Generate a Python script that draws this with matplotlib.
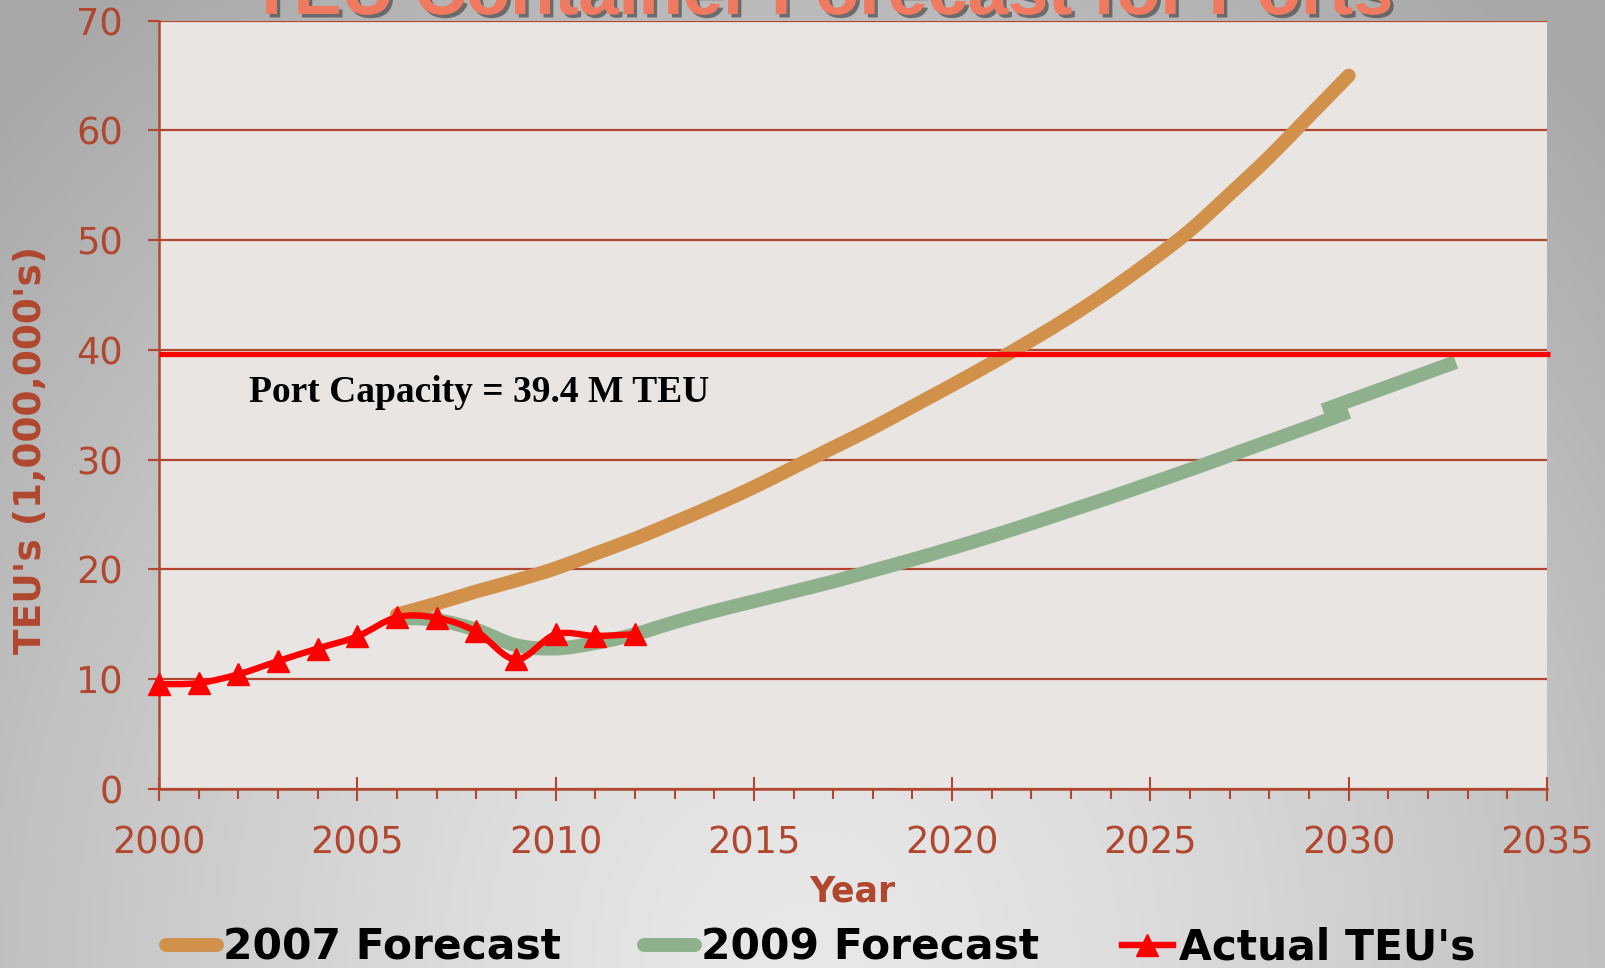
import numpy as np
import matplotlib
matplotlib.use("Agg")
import matplotlib.pyplot as plt
from matplotlib.path import Path
from matplotlib.patches import PathPatch
from matplotlib.lines import Line2D
from matplotlib.font_manager import FontProperties
import matplotlib.patheffects as pe

# ---------------- data ----------------
years_actual = [2000, 2001, 2002, 2003, 2004, 2005, 2006, 2007, 2008, 2009, 2010, 2011, 2012]
teu_actual = [9.55, 9.65, 10.45, 11.65, 12.8, 13.9, 15.65, 15.6, 14.35, 11.8, 14.1, 13.95, 14.1]

years_2007 = [2006, 2007, 2008, 2009, 2010, 2011, 2012, 2013, 2014, 2015, 2016, 2017, 2018,
              2019, 2020, 2021, 2022, 2023, 2024, 2025, 2026, 2027, 2028, 2029, 2030]
forecast_2007 = [15.9, 16.9, 18.0, 19.0, 20.1, 21.45, 22.8, 24.3, 25.85, 27.5, 29.3, 31.1, 32.9,
                 34.85, 36.8, 38.8, 40.9, 43.1, 45.5, 48.1, 50.9, 54.2, 57.6, 61.3, 65.0]

years_2009 = [2006, 2007, 2008, 2009, 2010, 2011, 2012, 2013, 2014, 2015, 2016, 2017, 2018,
              2019, 2020, 2021, 2022, 2023, 2024, 2025, 2026, 2027, 2028, 2029, 2030]
forecast_2009 = [15.6, 15.4, 14.5, 13.1, 12.8, 13.3, 14.1, 15.2, 16.2, 17.1, 18.0, 18.9, 19.9,
                 20.9, 21.95, 23.05, 24.2, 25.4, 26.6, 27.85, 29.1, 30.4, 31.7, 33.0, 34.35]
years_2009_ext = [2029.35, 2032.7]
forecast_2009_ext = [34.5, 38.9]

capacity_level = 39.6
capacity_label = "Port Capacity = 39.4 M TEU"

x_ticks = [2000, 2005, 2010, 2015, 2020, 2025, 2030, 2035]
y_ticks = [0, 10, 20, 30, 40, 50, 60, 70]
legend_labels = ["2007 Forecast", "2009 Forecast", "Actual TEU's"]
title_text = "TEU Container Forecast for Ports"

# ---------------- styles ----------------
C_AXIS = "#b0472e"
C_ORANGE = "#d1914b"
C_GREEN = "#8fb08c"
C_RED = "#ff0000"
C_PLOT_BG = "#e8e5e2"

W, H = 1606, 968
fig = plt.figure(figsize=(W / 100, H / 100), dpi=100)

# background gradient (radial, light at bottom centre)
bg = fig.add_axes([0, 0, 1, 1], zorder=-10)
gx = np.linspace(0, 1, 400)
gy = np.linspace(0, 1, 240)
GX, GY = np.meshgrid(gx, gy)
d = np.sqrt(((GX - 0.5) / 0.55) ** 2 + (GY / 1.0) ** 2)
v = np.clip(0.91 - 0.18 * d ** 1.4, 0.66, 1)
bg.imshow(np.dstack([v, v, v]), origin="lower", extent=[0, 1, 0, 1], aspect="auto")
bg.set_axis_off()

ax = fig.add_axes([159 / W, 1 - 789 / H, (1547 - 159) / W, (789 - 20.7) / H])
ax.set_facecolor(C_PLOT_BG)
ax.set_xlim(2000, 2035)
ax.set_ylim(0, 70)


def smooth_path(xs, ys):
    P = np.column_stack([xs, ys]).astype(float)
    n = len(P)
    verts = [P[0]]
    codes = [Path.MOVETO]
    for i in range(n - 1):
        p0 = P[i - 1] if i > 0 else P[i]
        p1 = P[i]
        p2 = P[i + 1]
        p3 = P[i + 2] if i + 2 < n else P[i + 1]
        verts += [p1 + (p2 - p0) / 6.0, p2 - (p3 - p1) / 6.0, p2]
        codes += [Path.CURVE4] * 3
    return Path(verts, codes)


def add_curve(xs, ys, color, lw, z, cap="round"):
    patch = PathPatch(smooth_path(xs, ys), facecolor="none", edgecolor=color, lw=lw,
                      capstyle=cap, joinstyle="round", zorder=z)
    ax.add_patch(patch)


add_curve(years_2009, forecast_2009, C_GREEN, 10, 3, cap="butt")
add_curve(years_2009_ext, forecast_2009_ext, C_GREEN, 10, 3, cap="butt")
add_curve(years_2007, forecast_2007, C_ORANGE, 10, 3.5)
add_curve(years_actual, teu_actual, C_RED, 4.6, 5)
ax.plot(years_actual, teu_actual, linestyle="none", marker="^", markersize=15.5,
        color=C_RED, zorder=6, clip_on=False)

ax.axhline(capacity_level, xmin=0, xmax=1.002, color=C_RED, lw=3.8, zorder=4,
           clip_on=False, solid_capstyle="butt")
ax.text(2002.27, 35.3, capacity_label, family="Liberation Serif", weight="bold",
        fontsize=27, color="black", va="baseline", ha="left", zorder=7)

# axes styling
ax.set_xticks(x_ticks)
ax.set_xticks(list(range(2000, 2036)), minor=True)
ax.set_yticks(y_ticks)
ax.set_xticklabels([str(t) for t in x_ticks])
ax.set_yticklabels([str(t) for t in y_ticks])
ax.yaxis.grid(True, color=C_AXIS, lw=1.6, zorder=1)
ax.set_axisbelow(True)
for s in ["top", "right"]:
    ax.spines[s].set_visible(False)
for s in ["left", "bottom"]:
    ax.spines[s].set_color(C_AXIS)
    ax.spines[s].set_linewidth(1.8)
ax.tick_params(axis="x", which="major", direction="inout", length=17, width=1.5,
               color=C_AXIS, labelcolor=C_AXIS, labelsize=26.5, pad=17)
ax.tick_params(axis="x", which="minor", direction="out", length=7, width=1.5, color=C_AXIS)
ax.tick_params(axis="y", which="major", direction="out", length=8, width=1.5,
               color=C_AXIS, labelcolor=C_AXIS, labelsize=26.5, pad=18)
for lab in ax.get_xticklabels() + ax.get_yticklabels():
    lab.set_family("DejaVu Sans")

ax.set_xlabel("Year", family="DejaVu Sans", weight="bold", fontsize=25, color=C_AXIS)
ax.xaxis.set_label_coords((852 - 159) / (1547 - 159), -(891 - 789) / (789 - 20.7))
ax.xaxis.label.set_va("center")

fig.text(31 / W, 1 - 450 / H, "TEU's (1,000,000's)", rotation=90, ha="center", va="center",
         family="DejaVu Sans", weight="bold", fontsize=27, color=C_AXIS)

# title (mostly cut off at top, as in the reference)
fig.text(822 / W, 1 - 14 / H, title_text, ha="center", va="baseline",
         family="Liberation Sans", weight="bold", fontsize=52, color="#f07a60",
         path_effects=[pe.withSimplePatchShadow(offset=(2.5, -2.5), shadow_rgbFace="#3a3a3a", alpha=0.6),
                       pe.Normal()])

# legend
handles = [
    Line2D([], [], color=C_ORANGE, lw=10, solid_capstyle="round"),
    Line2D([], [], color=C_GREEN, lw=10, solid_capstyle="round"),
    Line2D([], [], color=C_RED, lw=4.6, marker="^", markersize=15.5),
]
fig.legend(handles, legend_labels, loc="center left", bbox_to_anchor=(166 / W, 1 - 948 / H),
           ncol=3, frameon=False, prop=FontProperties(family="DejaVu Sans", weight="bold", size=30.5),
           handlelength=1.2, handletextpad=0.15, columnspacing=1.95, borderpad=0, borderaxespad=0)

fig.savefig("out.png", dpi=100)
